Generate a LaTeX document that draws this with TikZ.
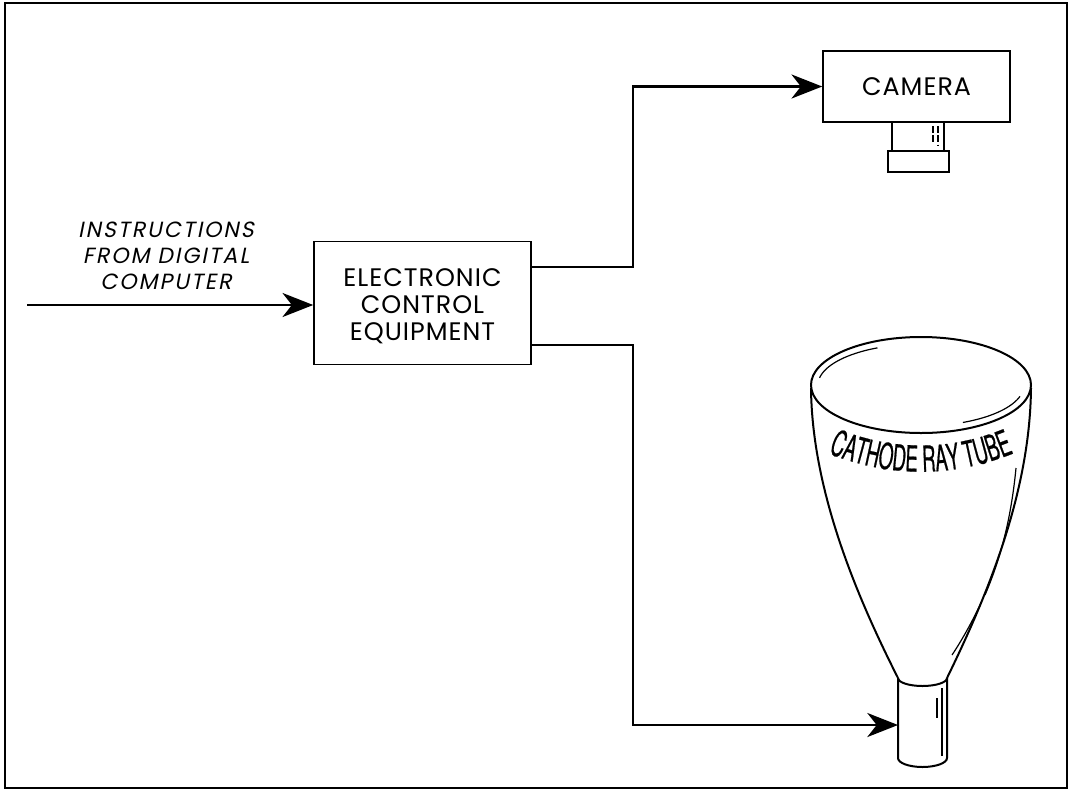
\documentclass[tikz,border=0pt]{standalone}
\usepackage{fontspec}
\usetikzlibrary{arrows.meta,decorations.text}
\newfontfamily\labelfont[LetterSpace=4]{Poppins}
\newfontfamily\inputfont[LetterSpace=9,FakeSlant=0.2]{Poppins}
\newfontfamily\crtfont[FakeStretch=0.52,FakeBold=0.5]{TeX Gyre Heros}
\begin{document}
\begin{tikzpicture}[x=0.75pt,y=-0.75pt,
  frame/.style={line width=1.3pt},
  blockbox/.style={draw,line width=1.2pt,inner sep=0pt,align=center,
    font=\labelfont\fontsize{19}{20.25}\selectfont},
  conn/.style={line width=2.1pt,line join=miter},
  tube/.style={line width=1.5pt},
  shine/.style={line width=0.9pt},
  >={Stealth[length=23pt,width=18pt,inset=7pt]}]
\useasboundingbox (0,0) rectangle (1071,790);
% outer frame
\draw[frame] (5,3) rectangle (1067,788);
\draw[line width=2.2pt] (5,3) -- (5,788);

% blocks
\node[blockbox,minimum width=162.75pt,minimum height=92.25pt] (ece) at (422.5,303)
  {\rule{0pt}{18pt}ELECTRONIC\\CONTROL\\EQUIPMENT};
\node[blockbox,minimum width=140.25pt,minimum height=53.25pt] (cam) at (916.5,86.5)
  {\raisebox{-1pt}{CAMERA}};

% camera lens
\draw[line width=1.2pt] (892,122) -- (892,151) (944,122) -- (944,151);
\draw[line width=1.2pt] (888,151) rectangle (949,172);
\draw[shine,dash pattern=on 5pt off 2pt] (933,126) -- (933,144) (938,126) -- (938,146);

% input label
\node[align=center,font=\inputfont\fontsize{16.5}{19.5}\selectfont] (instr) at (166,256)
  {INSTRUCTIONS\\FROM DIGITAL\\COMPUTER};

% cathode ray tube: face
\draw[tube] (921,385) ellipse [x radius=110, y radius=48];
\draw[shine] plot[smooth,domain=115:170,samples=20] ({921+103*cos(\x)},{385-41*sin(\x)});
\draw[shine] plot[smooth,domain=-66:-16,samples=20] ({921+103*cos(\x)},{385-41*sin(\x)});
% cone
\draw[tube] (811,388) .. controls (812,490) and (856,595) .. (898,678);
\draw[tube] (1031,388) .. controls (1030,490) and (990,590) .. (947,678);
\draw[shine] (1016,468) .. controls (1011,520) and (1000,560) .. (985,595);
\draw[shine] (981,603) .. controls (972,622) and (962,640) .. (952,655);
% neck
\draw[tube] (898,678) -- (898,758) arc[start angle=180,end angle=360,x radius=24.5,y radius=-9]
  -- (947,678);
\draw[tube] (898,678) arc[start angle=180,end angle=360,x radius=24.5,y radius=-8];
\draw[shine] (937,698) -- (937,718) (942,688) -- (942,756);
% label on the tube
\path[decorate,decoration={text along path,text align=center,
  text={|\crtfont\fontsize{27}{27}\selectfont|CATHODE RAY TUBE}}]
  (814,447) .. controls (884,480) and (958,480) .. (1028,447);

% connectors
\coordinate (src) at (27,305);
\coordinate (jA) at (633,267);
\coordinate (jB) at (633,345);
\coordinate (crtin) at (898,725);
\draw[conn,->] (src) -- (src -| ece.west);
\draw[conn,->] (ece.east |- jA) -- (jA) |- (cam.west);
\draw[conn,->] (ece.east |- jB) -- (jB) |- (crtin);
\end{tikzpicture}
\end{document}
